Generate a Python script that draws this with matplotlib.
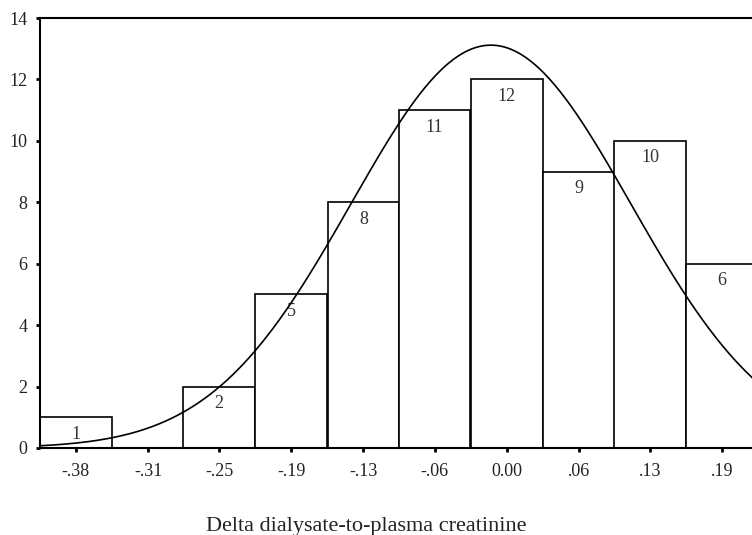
import numpy as np
import matplotlib
matplotlib.use("Agg")
import matplotlib.pyplot as plt


# bin centres (delta D/P creatinine) and counts
bin_centers = [-0.382, -0.318, -0.255, -0.191, -0.127, -0.064, 0.0, 0.064, 0.127, 0.191]
tick_labels = ["-.38", "-.31", "-.25", "-.19", "-.13", "-.06", "0.00", ".06", ".13", ".19"]
counts = [1, 0, 2, 5, 8, 11, 12, 9, 10, 6]

BIN_WIDTH = 0.0637

# fitted normal curve parameters
CURVE_MEAN = -0.014
CURVE_SD = 0.124

plt.rcParams["font.family"] = ["Liberation Serif", "DejaVu Serif"]

fig = plt.figure(figsize=(7.52, 5.35), dpi=100)
ax = fig.add_axes([40 / 752, 1 - 448 / 535, 718 / 752, 430 / 535])

ax.bar(bin_centers, counts, width=BIN_WIDTH, color="white",
       edgecolor="black", linewidth=1.2, zorder=2)

for xc, c in zip(bin_centers, counts):
    if c > 0:
        ax.text(xc, c - 0.55, str(c), ha="center", va="center",
                fontsize=13, color="#333333", zorder=3)

# normal curve over the histogram
n_total = sum(counts)
xs = np.linspace(bin_centers[0] - BIN_WIDTH / 2, bin_centers[-1] + BIN_WIDTH / 2, 400)
ys = n_total * BIN_WIDTH / (CURVE_SD * np.sqrt(2 * np.pi)) * np.exp(-0.5 * ((xs - CURVE_MEAN) / CURVE_SD) ** 2)
ax.plot(xs, ys, color="black", linewidth=1.2, zorder=4)

ax.set_xlim(bin_centers[0] - BIN_WIDTH / 2, bin_centers[-1] + BIN_WIDTH / 2)
ax.set_ylim(0, 14)

ax.set_xticks(bin_centers)
ax.set_xticklabels(tick_labels)
ax.set_yticks([0, 2, 4, 6, 8, 10, 12, 14])

ax.tick_params(axis="x", direction="out", length=3, width=2, pad=8, labelsize=13,
               labelcolor="#222222")
ax.tick_params(axis="y", direction="out", length=3, width=2, pad=6, labelsize=13,
               labelcolor="#222222")

for side in ["left", "bottom", "top", "right"]:
    ax.spines[side].set_linewidth(1.5)

ax.set_xlabel("Delta dialysate-to-plasma creatinine", fontsize=16, va="baseline",
              color="#222222")
ax.xaxis.set_label_coords(0.455, -0.193)

fig.savefig("out.png", dpi=100)
